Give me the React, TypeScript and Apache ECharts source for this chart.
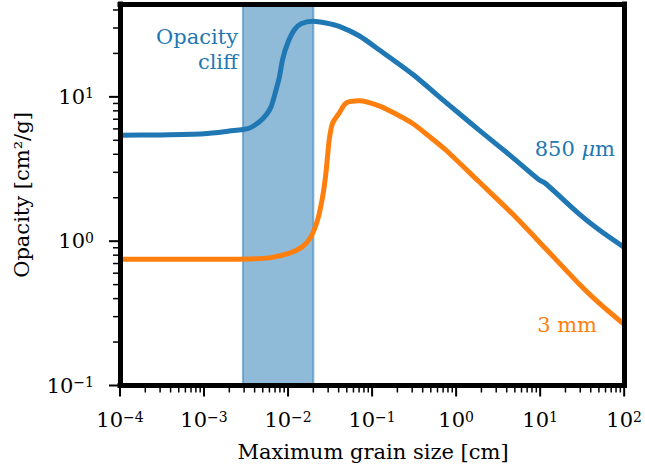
import React, { useEffect, useRef } from "react";
import * as echarts from "echarts";

// ---- data ----
const blueX = [1e-4, 3e-4, 1e-3, 2e-3, 3.4e-3, 4.6e-3, 5.5e-3, 6.3e-3, 7.2e-3, 7.9e-3, 8.6e-3, 9.9e-3, 0.0119, 0.0143, 0.0196, 0.0282, 0.0406, 0.07, 0.121, 0.301, 0.748, 1.86, 4.61, 9.55, 11.5, 28.5, 49.2, 100];
const blueY = [5.43, 5.45, 5.55, 5.8, 6.05, 6.75, 7.52, 8.58, 11.2, 13.8, 18.1, 23.6, 29.2, 32.1, 33.4, 32.5, 30.8, 26.5, 21.2, 14.4, 9.2, 5.91, 3.84, 2.68, 2.52, 1.56, 1.21, 0.906];

const orangeX = [1e-4, 1e-3, 3.5e-3, 6e-3, 0.0104, 0.0149, 0.0188, 0.0225, 0.0258, 0.0282, 0.0309, 0.0339, 0.0406, 0.0488, 0.0702, 0.121, 0.19, 0.301, 0.47, 0.748, 1.86, 4.61, 11.5, 28.5, 49.2, 100];
const orangeY = [0.75, 0.75, 0.753, 0.766, 0.826, 0.918, 1.08, 1.41, 2.04, 2.96, 5.04, 6.58, 7.72, 9.06, 9.39, 8.67, 7.64, 6.56, 5.37, 4.3, 2.59, 1.56, 0.894, 0.512, 0.377, 0.265];

const bandStart = 0.0029;
const bandEnd = 0.02;

const xMin = 1e-4;
const xMax = 100;
const yMin = 0.1;
const yMax = 44;

const xMajorTicks = [1e-4, 1e-3, 1e-2, 1e-1, 1, 10, 100];
const yMajorTicks = [0.1, 1, 10];
const minorMantissas = [2, 3, 4, 5, 6, 7, 8, 9];

const FONT = "DejaVu Serif";
const BLUE = "#1f77b4";
const ORANGE = "#ff7f0e";
const FS = 21;

function minorsOf(majors: number[], max: number) {
  const out: number[] = [];
  majors.forEach((d) => {
    minorMantissas.forEach((m) => {
      const v = d * m;
      if (v < max) out.push(v);
    });
  });
  return out;
}

const xMinorTicks = minorsOf(xMajorTicks, xMax);
const yMinorTicks = minorsOf(yMajorTicks, yMax);

const expLabel = (v: number) => {
  const l = Math.log10(v);
  const e = Math.round(l);
  if (Math.abs(l - e) > 1e-6) return "";
  return `{b|10}{s|${e < 0 ? "\u2212" : ""}${Math.abs(e)}}`;
};

const labelRich = {
  b: { fontSize: FS, fontFamily: FONT, color: "#000", verticalAlign: "bottom" },
  s: { fontSize: 14, fontFamily: FONT, color: "#000", verticalAlign: "top" },
};

export default function App() {
  const ref = useRef<HTMLDivElement>(null);
  useEffect(() => {
    if (!ref.current) return;
    const chart = echarts.init(ref.current, undefined, { renderer: "svg" });

    const frameLine = { show: true, onZero: false, lineStyle: { color: "#000", width: 5, cap: "square" } };

    const xTickData = [
      ...xMajorTicks.map((v) => [v, yMin, 1]),
      ...xMinorTicks.map((v) => [v, yMin, 0]),
    ];
    const yTickData = [
      ...yMajorTicks.map((v) => [xMin, v, 1]),
      ...yMinorTicks.map((v) => [xMin, v, 0]),
    ];

    chart.setOption({
      animation: false,
      backgroundColor: "#fff",
      grid: { left: 120, top: 4, width: 506, height: 381.5 },
      xAxis: [
        {
          type: "log",
          logBase: 10,
          min: xMin,
          max: xMax,
          z: 10,
          axisLine: frameLine,
          axisTick: { show: false },
          splitLine: { show: false },
          minorTick: { show: false },
          axisLabel: { formatter: expLabel, rich: labelRich, margin: 24, showMinLabel: true, showMaxLabel: true },
        },
        {
          type: "value",
          position: "top",
          min: 0,
          max: 1,
          z: 10,
          axisLine: frameLine,
          axisTick: { show: false },
          axisLabel: { show: false },
          splitLine: { show: false },
        },
      ],
      yAxis: [
        {
          type: "log",
          logBase: 10,
          min: yMin,
          max: yMax,
          z: 10,
          axisLine: frameLine,
          axisTick: { show: false },
          splitLine: { show: false },
          minorTick: { show: false },
          axisLabel: { formatter: expLabel, rich: labelRich, margin: 26, showMinLabel: true, showMaxLabel: true },
        },
        {
          type: "value",
          position: "right",
          min: 0,
          max: 1,
          z: 10,
          axisLine: frameLine,
          axisTick: { show: false },
          axisLabel: { show: false },
          splitLine: { show: false },
        },
      ],
      series: [
        {
          type: "line",
          name: "850 μm",
          data: blueX.map((x, i) => [x, blueY[i]]),
          showSymbol: false,
          smooth: 0.25,
          lineStyle: { color: BLUE, width: 5 },
          itemStyle: { color: BLUE },
          z: 3,
          markArea: {
            silent: true,
            itemStyle: { color: "rgba(31,119,180,0.5)", borderColor: "rgba(31,119,180,0.5)", borderWidth: 2 },
            data: [[{ xAxis: bandStart }, { xAxis: bandEnd }]],
          },
        },
        {
          type: "line",
          name: "3 mm",
          data: orangeX.map((x, i) => [x, orangeY[i]]),
          showSymbol: false,
          smooth: 0.25,
          lineStyle: { color: ORANGE, width: 5 },
          itemStyle: { color: ORANGE },
          z: 3,
        },
        {
          type: "custom",
          clip: false,
          silent: true,
          data: xTickData,
          renderItem: (params: any, api: any) => {
            const p = api.coord([api.value(0), api.value(1)]);
            const major = api.value(2) === 1;
            const len = major ? 11 : 7;
            return {
              type: "line",
              shape: { x1: p[0], y1: p[1], x2: p[0], y2: p[1] + len },
              style: { stroke: "#000", lineWidth: major ? 2 : 1.5 },
            };
          },
        },
        {
          type: "custom",
          clip: false,
          silent: true,
          data: yTickData,
          renderItem: (params: any, api: any) => {
            const p = api.coord([api.value(0), api.value(1)]);
            const major = api.value(2) === 1;
            const len = major ? 11 : 7;
            return {
              type: "line",
              shape: { x1: p[0] - len, y1: p[1], x2: p[0], y2: p[1] },
              style: { stroke: "#000", lineWidth: major ? 2 : 1.5 },
            };
          },
        },
      ],
      graphic: [
        {
          type: "text",
          x: 238,
          y: 24,
          style: {
            text: "Opacity\ncliff",
            align: "right",
            verticalAlign: "top",
            lineHeight: 25,
            fontSize: FS,
            fontFamily: FONT,
            fill: BLUE,
          },
        },
        {
          type: "text",
          x: 615,
          y: 148.5,
          style: {
            text: "{t|850 }{i|μ}{t|m}",
            align: "right",
            verticalAlign: "middle",
            rich: {
              t: { fontSize: FS, fontFamily: FONT, fill: BLUE, color: BLUE },
              i: { fontSize: FS, fontFamily: FONT, fontStyle: "italic", fill: BLUE, color: BLUE },
            },
            fill: BLUE,
          },
        },
        {
          type: "text",
          x: 597,
          y: 325,
          style: {
            text: "3 mm",
            align: "right",
            verticalAlign: "middle",
            fontSize: FS,
            fontFamily: FONT,
            fill: ORANGE,
          },
        },
        {
          type: "text",
          x: 373,
          y: 452,
          style: {
            text: "Maximum grain size [cm]",
            align: "center",
            verticalAlign: "middle",
            fontSize: FS,
            fontFamily: FONT,
            fill: "#000",
          },
        },
        {
          type: "text",
          x: 22,
          y: 195,
          rotation: Math.PI / 2,
          style: {
            text: "Opacity [cm²/g]",
            align: "center",
            verticalAlign: "middle",
            fontSize: FS,
            fontFamily: FONT,
            fill: "#000",
          },
        },
      ],
    });
    return () => chart.dispose();
  }, []);
  return <div ref={ref} style={{ width: 645, height: 472, position: "absolute", left: 0, top: 0 }} />;
}
